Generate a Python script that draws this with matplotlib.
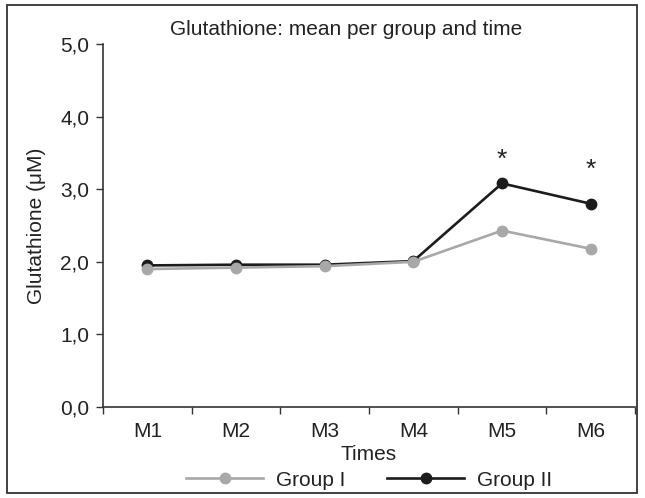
import matplotlib
matplotlib.use("Agg")
import matplotlib.pyplot as plt
from matplotlib.patches import Rectangle

plt.rcParams['font.family'] = ['Liberation Sans', 'DejaVu Sans']

times = ['M1', 'M2', 'M3', 'M4', 'M5', 'M6']
group1 = [1.90, 1.92, 1.94, 2.00, 2.43, 2.18]
group2 = [1.95, 1.96, 1.96, 2.01, 3.08, 2.80]
# heights of the significance stars (None = no star)
stars = [None, None, None, None, 3.40, 3.26]
yticks = [0, 1, 2, 3, 4, 5]

txt = '#222222'
fs = 15
fig = plt.figure(figsize=(6.45, 4.98), dpi=100)
ax = fig.add_axes([103/645, 1 - 407/498, 532/645, 363/498])

x = range(len(times))
ax.plot(x, group1, color='#a8a8a8', lw=1.9, marker='o', ms=7.5, label='Group I', zorder=3)
ax.plot(x, group2, color='#1c1c1c', lw=1.9, marker='o', ms=7.5, label='Group II', zorder=2)

for i, s in enumerate(stars):
    if s is not None:
        ax.text(i, s, '*', ha='center', va='center', fontsize=19, color=txt)

ax.set_xlim(-0.5, len(times) - 0.5)
ax.set_ylim(0, 5)
ax.set_xticks(list(x))
ax.set_xticklabels(times)
ax.set_xticks([i - 0.5 for i in range(len(times) + 1)], minor=True)
ax.tick_params(axis='x', which='major', length=0, pad=11, labelsize=fs, labelcolor=txt)
ax.tick_params(axis='x', which='minor', length=5, width=1, color='#333333', direction='out')
ax.set_yticks(yticks)
ax.set_yticklabels([f'{v:.1f}'.replace('.', ',') for v in yticks])
ax.tick_params(axis='y', length=5, width=1, color='#333333', pad=5, labelsize=fs, labelcolor=txt)

for s in ['top', 'right']:
    ax.spines[s].set_visible(False)
for s in ['left', 'bottom']:
    ax.spines[s].set_color('#333333')
    ax.spines[s].set_linewidth(1.2)

ax.set_xlabel('Times', fontsize=fs, color=txt, labelpad=3)
ax.set_ylabel('Glutathione (μM)', fontsize=fs, color=txt, labelpad=10)

fig.text(346/645, 1 - 29/498, 'Glutathione: mean per group and time', ha='center', va='center',
         fontsize=fs, color=txt)

fig.legend(loc='center', bbox_to_anchor=(369/645, 1 - 480/498), ncol=2, frameon=False,
           fontsize=fs, handlelength=3.7, columnspacing=2.0, handletextpad=0.6,
           labelcolor=txt)

fig.patches.append(Rectangle((7/645, 5/498), 630/645, 488/498, transform=fig.transFigure,
                             fill=False, edgecolor='#333333', lw=1.3))

fig.savefig('out.png', dpi=100)
